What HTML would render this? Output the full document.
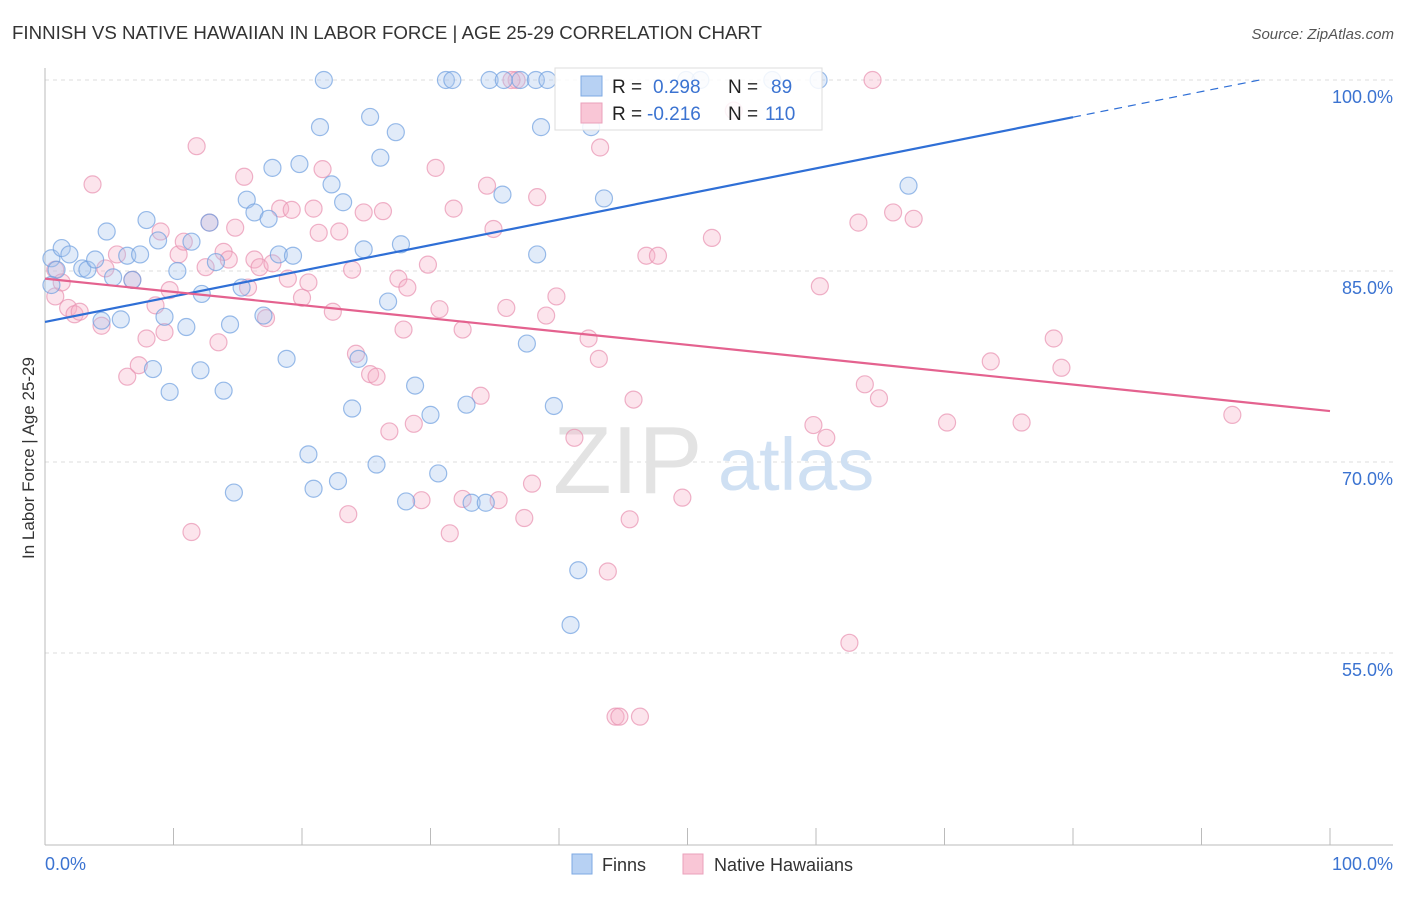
<!DOCTYPE html>
<html><head><meta charset="utf-8"><style>
body{margin:0;background:#fff;font-family:"Liberation Sans",sans-serif;}
svg text{font-family:"Liberation Sans",sans-serif;}
</style></head><body>
<svg id="chart" width="1406" height="892">
<text x="12" y="39" font-size="18" fill="#333" textLength="750" lengthAdjust="spacingAndGlyphs">FINNISH VS NATIVE HAWAIIAN IN LABOR FORCE | AGE 25-29 CORRELATION CHART</text>
<text x="1394" y="39" font-size="15" fill="#555" font-style="italic" text-anchor="end">Source: ZipAtlas.com</text>
<text transform="translate(34,458) rotate(-90)" font-size="17" fill="#333" text-anchor="middle">In Labor Force | Age 25-29</text>
<g id="grid"></g>
<g id="axes"></g>
<text x="553" y="493" font-size="96" fill="#e3e3e3" font-family="Liberation Serif">ZIP</text>
<text x="718" y="490" font-size="74" fill="#cfe0f3">atlas</text>
<g id="pts"></g>
<g id="lines"></g>
<g>
<rect x="555" y="68" width="267" height="62" fill="#fff" fill-opacity="0.85" stroke="#ddd"/>
<rect x="581" y="76" width="21" height="20" fill="#b7d1f3" stroke="#7ea9e3"/>
<rect x="581" y="103" width="21" height="20" fill="#f9c6d6" stroke="#eaa0bb"/>
<text x="612" y="93" font-size="19" fill="#222">R =</text>
<text x="653" y="93" font-size="19" fill="#3b73d1">0.298</text>
<text x="728" y="93" font-size="19" fill="#222">N =</text>
<text x="771" y="93" font-size="19" fill="#3b73d1">89</text>
<text x="612" y="120" font-size="19" fill="#222">R =</text>
<text x="647" y="120" font-size="19" fill="#3b73d1">-0.216</text>
<text x="728" y="120" font-size="19" fill="#222">N =</text>
<text x="765" y="120" font-size="19" fill="#3b73d1">110</text>
</g>
<g>
<rect x="572" y="854" width="20" height="20" fill="#b7d1f3" stroke="#7ea9e3"/>
<text x="602" y="871" font-size="18" fill="#333">Finns</text>
<rect x="683" y="854" width="20" height="20" fill="#f9c6d6" stroke="#eaa0bb"/>
<text x="714" y="871" font-size="18" fill="#333">Native Hawaiians</text>
</g>
</svg>
<script>
const yTicks=[100,85,70,55];
const yTickLabels=["100.0%","85.0%","70.0%","55.0%"];
const xTickLabels=["0.0%","100.0%"];
const finnsX=[0.5,1.3,1.9,2.9,3.3,3.9,4.4,4.8,5.3,5.9,6.4,6.8,7.4,7.9,8.4,8.8,9.3,9.7,10.3,11.0,11.4,12.1,12.2,12.8,13.3,13.9,14.4,14.7,15.3,15.7,16.3,17.0,17.4,17.7,18.2,18.8,19.3,19.8,20.5,20.9,21.4,21.7,22.3,22.8,23.2,23.9,24.4,24.8,25.3,25.8,26.1,26.7,27.3,27.7,28.1,28.8,30.0,30.6,31.2,31.7,32.8,33.2,34.3,34.6,35.6,35.7,37.0,37.5,38.2,38.3,38.6,39.1,39.6,41.5,40.9,42.5,43.5,49.9,51.0,56.6,60.2,67.2,0.9,0.5];
const finnsY=[86.0,86.8,86.3,85.2,85.1,85.9,81.1,88.1,84.5,81.2,86.2,84.3,86.3,89.0,77.3,87.4,81.4,75.5,85.0,80.6,87.3,77.2,83.2,88.8,85.7,75.6,80.8,67.6,83.7,90.6,89.6,81.5,89.1,93.1,86.3,78.1,86.2,93.4,70.6,67.9,96.3,100,91.8,68.5,90.4,74.2,78.1,86.7,97.1,69.8,93.9,82.6,95.9,87.1,66.9,76.0,73.7,69.1,100,100,74.5,66.8,66.8,100,91.0,100,100,79.3,100,86.3,96.3,100,74.4,61.5,57.2,96.3,90.7,100,100,100,100,91.7,85.1,83.9];
const hawX=[0.8,0.8,1.3,1.8,2.3,2.7,3.7,4.4,4.7,5.6,6.4,6.8,7.3,7.9,8.6,9.0,9.3,9.7,10.4,10.8,11.4,11.8,12.5,12.8,13.5,13.9,14.3,14.8,15.5,15.8,16.3,16.7,17.2,17.7,18.3,18.9,19.2,20.0,20.5,20.9,21.3,21.6,22.4,22.9,23.6,23.9,24.2,24.8,25.3,25.8,26.3,26.8,27.5,27.9,28.2,28.7,29.3,29.8,30.4,30.7,31.5,31.8,32.5,32.5,33.9,34.4,34.9,35.3,35.9,36.7,37.3,37.9,38.3,39.0,39.8,42.3,43.1,43.2,43.8,44.4,44.7,46.3,45.5,45.8,46.8,47.7,49.6,51.9,53.6,59.8,60.3,60.8,62.6,63.3,63.8,64.9,66.0,67.6,70.2,73.6,76.0,78.5,79.1,92.4,64.4,36.3,41.2];
const hawY=[85.1,83.0,84.1,82.1,81.6,81.8,91.8,80.7,85.2,86.3,76.7,84.3,77.6,79.7,82.3,88.1,80.2,83.5,86.3,87.3,64.5,94.8,85.3,88.8,79.4,86.5,85.9,88.4,92.4,83.7,85.9,85.3,81.3,85.6,89.9,84.4,89.8,82.9,84.1,89.9,88.0,93.0,81.8,88.1,65.9,85.1,78.5,89.6,76.9,76.7,89.7,72.4,84.4,80.4,83.7,73.0,67.0,85.5,93.1,82.0,64.4,89.9,80.4,67.1,75.2,91.7,88.3,67.0,82.1,100,65.6,68.3,90.8,81.5,83.0,79.7,78.1,94.7,61.4,50.0,50.0,50.0,65.5,74.9,86.2,86.2,67.2,87.6,97.6,72.9,83.8,71.9,55.8,88.8,76.1,75.0,89.6,89.1,73.1,77.9,73.1,79.7,77.4,73.7,100,100,71.9];
const finnsTrend=[81.0,0.201];
const hawTrend=[84.4,-0.104];
const NS="http://www.w3.org/2000/svg";
const X=v=>45+v*12.85, Y=v=>80+(100-v)*12.733;
function mk(t,a,p){const e=document.createElementNS(NS,t);for(const k in a)e.setAttribute(k,a[k]);p.appendChild(e);return e;}
const grid=document.getElementById('grid'),axes=document.getElementById('axes');
yTicks.forEach((t,i)=>{
 const l=mk('line',{x1:45,x2:1393,y1:Y(t),y2:Y(t),stroke:'#ddd','stroke-dasharray':'4,4'},grid);
 
 
 const tx=mk('text',{x:1393,y:Y(t)+23,'font-size':18,fill:'#3b73d1','text-anchor':'end'},grid);
 tx.textContent=yTickLabels[i];
 
 
});
mk('line',{x1:45,x2:45,y1:68,y2:845,stroke:'#bbb'},axes);
mk('line',{x1:45,x2:1393,y1:845,y2:845,stroke:'#bbb'},axes);
for(let i=0;i<=10;i++){mk('line',{x1:X(i*10),x2:X(i*10),y1:828,y2:845,stroke:'#bbb'},axes);}
[[0,'start',45],[100,'end',1393]].forEach((d,i)=>{
 const tx=mk('text',{x:d[2],y:870,'font-size':18,fill:'#3b73d1','text-anchor':d[1]},axes);
 tx.textContent=xTickLabels[i];
 
 
});
const pts=document.getElementById('pts');
function draw(xs,ys,fill,stroke,name){xs.forEach((x,i)=>{
 const c=mk('circle',{cx:X(x),cy:Y(ys[i]),r:8.5,fill:fill,'fill-opacity':0.35,stroke:stroke,'stroke-opacity':0.7,'stroke-width':1.2},pts);
 
 
});}
draw(hawX,hawY,'#f7b3c9','#e891b0','native-hawaiian-point');
draw(finnsX,finnsY,'#a8c6ef','#6f9fdf','finns-point');
const lines=document.getElementById('lines');
const fy=x=>finnsTrend[0]+finnsTrend[1]*x, hy=x=>hawTrend[0]+hawTrend[1]*x;
const xEnd=(100-finnsTrend[0])/finnsTrend[1];
const b1=mk('line',{x1:X(0),y1:Y(fy(0)),x2:X(80),y2:Y(fy(80)),stroke:'#2f6fd6','stroke-width':2.2},lines);


const b2=mk('line',{x1:X(80),y1:Y(fy(80)),x2:X(xEnd),y2:Y(100),stroke:'#2f6fd6','stroke-width':1.2,'stroke-dasharray':'8,6'},lines);


const p1=mk('line',{x1:X(0),y1:Y(hy(0)),x2:X(100),y2:Y(hy(100)),stroke:'#e4628f','stroke-width':2.2},lines);


</script>
</body></html>
